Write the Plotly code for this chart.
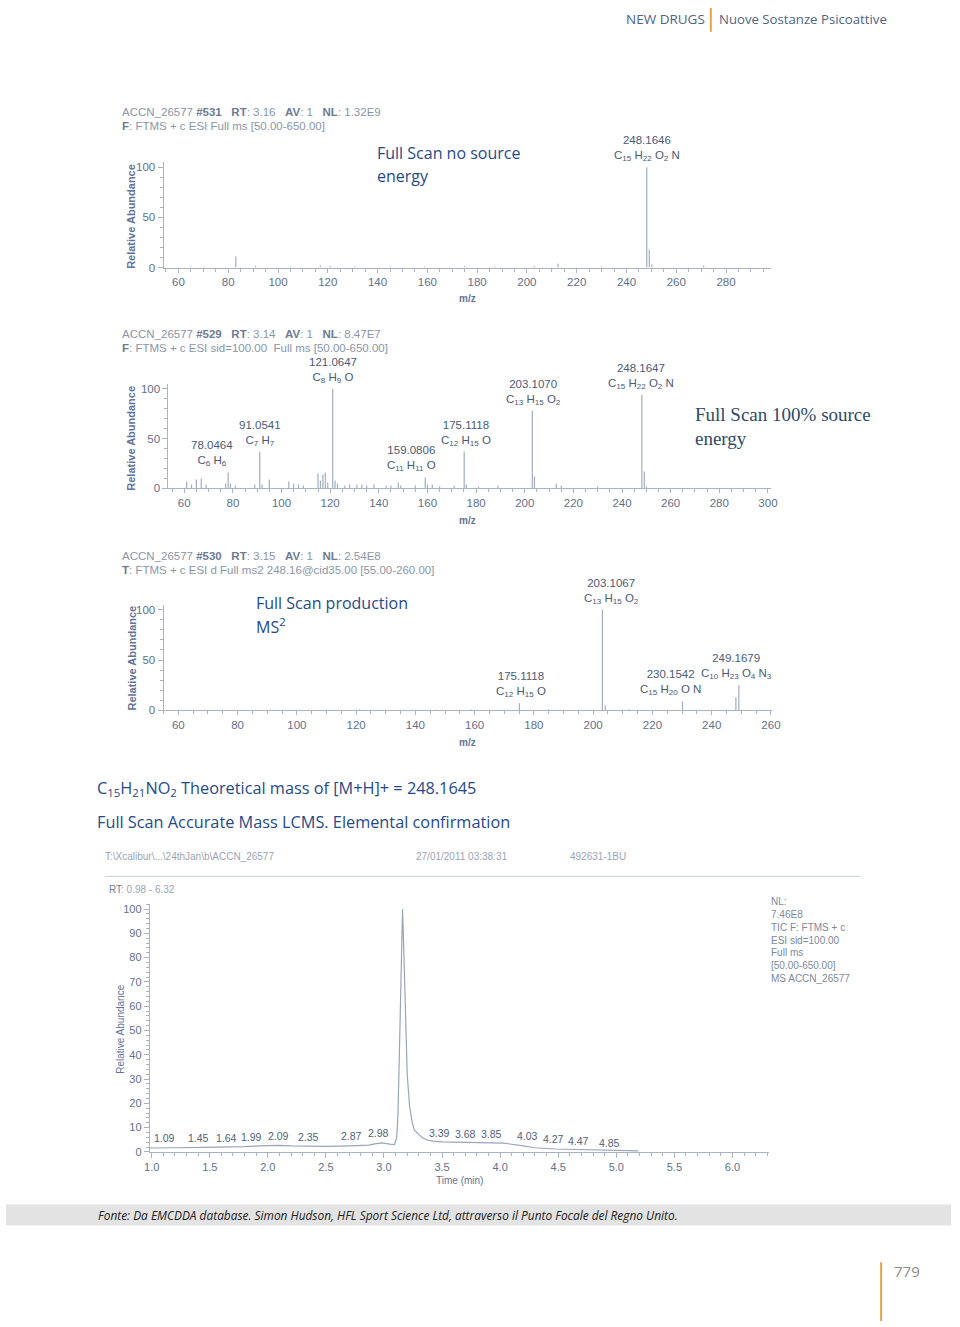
import plotly.graph_objects as go

W, H = 960, 1327


def px(x):
    return x / W


def py(y):
    return 1 - y / H


# ---------------- DATA ----------------
# Panel 1: Full Scan, no source energy
mz_p1 = [65.0, 70.0, 83.06, 91.0, 105.0, 117.0, 121.0, 131.0, 145.0, 159.0, 175.0,
         187.0, 203.0, 212.5, 230.0, 248.16, 249.17, 250.17, 271.0]
ab_p1 = [1.0, 0.8, 11.0, 1.5, 1.0, 2.0, 1.5, 1.0, 1.0, 1.0, 1.5,
         1.0, 1.5, 4.0, 1.0, 100.0, 18.0, 3.0, 2.0]
lab_p1_mz = [248.1646]
lab_p1_ab = [100.0]
lab_p1_mass = ["248.1646"]
lab_p1_formula = ["C<sub>15</sub> H<sub>22</sub> O<sub>2</sub> N"]

# Panel 2: Full Scan, 100% source energy
mz_p2 = [61, 63, 65, 67, 69, 77, 78.05, 79, 81, 89, 91.05, 92, 95, 103, 105, 107, 109,
         115, 116, 117, 118, 119, 121.06, 122, 123, 126, 128, 131, 133, 135, 138, 143,
         145, 148, 149, 155, 159.08, 160, 162, 165, 171, 175.11, 176, 181, 189, 203.11,
         204, 213, 215, 230, 248.16, 249.17, 250]
ab_p2 = [7, 4, 9, 10, 4, 5, 16, 5, 3, 4, 37, 4, 9, 7, 5, 4, 3,
         15, 8, 14, 16, 6, 100, 8, 5, 3, 4, 4, 4, 3, 4, 3,
         3, 6, 3, 3, 11, 4, 4, 2, 3, 37, 4, 2, 3, 78,
         12, 5, 3, 2, 94, 17, 2]
lab_p2_mz = [78.0464, 91.0541, 121.0647, 159.0806, 175.1118, 203.1070, 248.1647]
lab_p2_ab = [16, 37, 100, 11, 37, 78, 94]
lab_p2_mass = ["78.0464", "91.0541", "121.0647", "159.0806", "175.1118", "203.1070", "248.1647"]
lab_p2_formula = ["C<sub>6</sub> H<sub>6</sub>", "C<sub>7</sub> H<sub>7</sub>",
                  "C<sub>8</sub> H<sub>9</sub> O", "C<sub>11</sub> H<sub>11</sub> O",
                  "C<sub>12</sub> H<sub>15</sub> O", "C<sub>13</sub> H<sub>15</sub> O<sub>2</sub>",
                  "C<sub>15</sub> H<sub>22</sub> O<sub>2</sub> N"]

# Panel 3: Product ion MS2
mz_p3 = [70, 91, 105, 121, 147, 159, 175.11, 185, 203.11, 204.1, 212, 230.15, 248.16, 249.17]
ab_p3 = [0.5, 0.8, 0.6, 0.8, 0.6, 0.8, 7, 1, 100, 5, 1, 9, 13, 25]
lab_p3_mz = [175.1118, 203.1067, 230.1542, 249.1679]
lab_p3_ab = [7, 100, 9, 25]
lab_p3_mass = ["175.1118", "203.1067", "230.1542", "249.1679"]
lab_p3_formula = ["C<sub>12</sub> H<sub>15</sub> O", "C<sub>13</sub> H<sub>15</sub> O<sub>2</sub>",
                  "C<sub>15</sub> H<sub>20</sub> O N", "C<sub>10</sub> H<sub>23</sub> O<sub>4</sub> N<sub>3</sub>"]

# Chromatogram (TIC)
rt_time = [0.98, 1.09, 1.2, 1.45, 1.64, 1.8, 1.99, 2.09, 2.2, 2.35, 2.5, 2.7, 2.87, 2.92,
           2.98, 3.05, 3.09, 3.11, 3.12, 3.13, 3.14, 3.15, 3.16, 3.17, 3.18, 3.19, 3.2,
           3.22, 3.24, 3.26, 3.3, 3.33, 3.38, 3.42, 3.5, 3.68, 3.85, 4.03, 4.2, 4.3, 4.47,
           4.7, 4.85, 5.0, 5.19]
rt_abund = [1.6, 1.8, 1.7, 1.9, 2.0, 2.2, 2.6, 2.7, 2.5, 2.4, 2.3, 2.5, 2.8, 3.3,
            3.7, 3.2, 3.0, 6.0, 15.0, 35.0, 62.0, 90.0, 100.0, 84.0, 62.0, 43.0, 32.0,
            19.0, 13.0, 9.0, 7.0, 5.8, 4.8, 4.4, 4.1, 4.0, 3.8, 3.6, 2.5, 1.7, 1.2,
            0.9, 0.7, 0.5, 0.4]
rt_labels = ["1.09", "1.45", "1.64", "1.99", "2.09", "2.35", "2.87", "2.98", "3.16",
             "3.39", "3.68", "3.85", "4.03", "4.27", "4.47", "4.85"]
rt_label_t = [1.09, 1.45, 1.64, 1.99, 2.09, 2.35, 2.87, 2.98, 3.16,
              3.39, 3.68, 3.85, 4.03, 4.27, 4.47, 4.85]
rt_label_y = [5.6, 5.6, 5.6, 6.1, 6.5, 6.1, 6.5, 7.7, 103.0,
              7.7, 7.4, 7.3, 6.5, 5.3, 4.6, 3.8]

# ---------------- STYLE ----------------
AX = "#aab3c3"
TICKC = "#5f6f8c"
LINEC = "#a3adbf"
LABC = "#4a5a77"
HEADC = "#8a95a9"
BLUE = "#1f4a8a"
# horizontal label offsets (pixels) used by the instrument software to avoid overlaps
rt_label_dx = [2, -5, 0, -15, 0, 0, -17, -3, -2, 10, 3, 9, 24, 22, 24, 11]


def sticks(mz, ab):
    xs, ys = [], []
    for m, a in zip(mz, ab):
        xs += [m, m, None]
        ys += [0, a, None]
    return xs, ys


fig = go.Figure()

panels = [
    dict(mz=mz_p1, ab=ab_p1, xd=(160, 777), xr=(54, 298), yb=268, yt=162, dt=20, ytop=105),
    dict(mz=mz_p2, ab=ab_p2, xd=(165, 777), xr=(53.5, 301.2), yb=490, yt=385, dt=20, ytop=105),
    dict(mz=mz_p3, ab=ab_p3, xd=(160, 778), xr=(55.0, 260.3), yb=713, yt=607, dt=20, ytop=105),
]

layout_axes = {}
for i, p in enumerate(panels, start=1):
    xs, ys = sticks(p["mz"], p["ab"])
    sfx = "" if i == 1 else str(i)
    fig.add_trace(go.Scatter(x=xs, y=ys, mode="lines", line=dict(color=LINEC, width=1.2),
                             xaxis="x" + sfx, yaxis="y" + sfx, hoverinfo="skip",
                             showlegend=False))
    layout_axes["xaxis" + sfx] = dict(
        domain=[px(p["xd"][0]), px(p["xd"][1])], range=list(p["xr"]), anchor="y" + sfx,
        showgrid=False, zeroline=False, showline=True, linecolor=AX, linewidth=1,
        ticks="outside", ticklen=4, tickcolor=AX, dtick=p["dt"], tick0=0,
        tickfont=dict(family="Arial, Liberation Sans", size=11.5, color=TICKC),
        minor=dict(ticks="outside", ticklen=3, dtick=5, tickcolor=AX),
    )
    layout_axes["yaxis" + sfx] = dict(
        domain=[py(p["yb"]), py(p["yt"])], range=[0, p["ytop"]], anchor="x" + sfx,
        showgrid=False, zeroline=False, showline=True, linecolor=AX, linewidth=1,
        ticks="outside", ticklen=5, tickcolor=AX, tickvals=[0, 50, 100],
        tickfont=dict(family="Arial, Liberation Sans", size=11.5, color=TICKC),
        minor=dict(ticks="outside", ticklen=3, dtick=10, tickcolor=AX),
    )

# Chromatogram
fig.add_trace(go.Scatter(x=rt_time, y=rt_abund, mode="lines",
                         line=dict(color="#9aa5b8", width=1.2),
                         xaxis="x4", yaxis="y4", hoverinfo="skip", showlegend=False))
layout_axes["xaxis4"] = dict(
    domain=[px(146), px(775)], range=[0.983, 6.314], anchor="y4",
    showgrid=False, zeroline=False, showline=True, linecolor=AX, linewidth=1,
    ticks="outside", ticklen=5, tickcolor=AX, dtick=0.5, tick0=0, tickformat=".1f",
    tickfont=dict(family="Arial, Liberation Sans", size=11, color=TICKC),
    minor=dict(ticks="outside", ticklen=3, dtick=0.1, tickcolor=AX),
)
layout_axes["yaxis4"] = dict(
    domain=[py(1157), py(908)], range=[0, 102], anchor="x4",
    showgrid=False, zeroline=False, showline=True, linecolor=AX, linewidth=1,
    ticks="outside", ticklen=5, tickcolor=AX, dtick=10, tick0=0,
    tickfont=dict(family="Arial, Liberation Sans", size=11, color=TICKC),
    minor=dict(ticks="outside", ticklen=3, dtick=2, tickcolor=AX),
)

annotations = []


def txt(x, y, text, size=11, color=HEADC, family="Arial, Liberation Sans", xanchor="left",
        yanchor="middle", angle=0, **kw):
    annotations.append(dict(x=px(x), y=py(y), xref="paper", yref="paper", text=text,
                            showarrow=False, xanchor=xanchor, yanchor=yanchor,
                            textangle=angle, align="left",
                            font=dict(family=family, size=size, color=color), **kw))


def peak_labels(mzs, abs_, masses, forms, sfx, shifts):
    for m, a, ms, f, sh in zip(mzs, abs_, masses, forms, shifts):
        annotations.append(dict(x=m, y=a, xref="x" + sfx, yref="y" + sfx,
                                text=ms + "<br>" + f, showarrow=False, xanchor="center",
                                yanchor="bottom", yshift=2, xshift=sh, align="center",
                                font=dict(family="Arial, Liberation Sans", size=11.5, color=LABC)))


peak_labels(lab_p1_mz, lab_p1_ab, lab_p1_mass, lab_p1_formula, "", [0])
peak_labels(lab_p2_mz, lab_p2_ab, lab_p2_mass, lab_p2_formula, "2", [-16, 0, 0, -14, 2, 1, -1])
peak_labels(lab_p3_mz, lab_p3_ab, lab_p3_mass, lab_p3_formula, "3", [2, 9, -12, -2])

# Spectrum headers
D = "#6e7b93"


def b(s):
    return '<span style="color:%s"><b>%s</b></span>' % (D, s)


HS = 11.5
txt(116, 112, "ACCN_26577 " + b("#531") + "   " + b("RT") + ": 3.16   " + b("AV") + ": 1   " + b("NL") + ": 1.32E9", size=HS)
txt(116, 126, b("F") + ": FTMS + c ESI Full ms [50.00-650.00]", size=HS)
txt(116, 335, "ACCN_26577 " + b("#529") + "   " + b("RT") + ": 3.14   " + b("AV") + ": 1   " + b("NL") + ": 8.47E7", size=HS)
txt(116, 349, b("F") + ": FTMS + c ESI sid=100.00  Full ms [50.00-650.00]", size=HS)
txt(116, 558, "ACCN_26577 " + b("#530") + "   " + b("RT") + ": 3.15   " + b("AV") + ": 1   " + b("NL") + ": 2.54E8", size=HS)
txt(116, 572, b("T") + ": FTMS + c ESI d Full ms2 248.16@cid35.00 [55.00-260.00]", size=HS)

# axis titles
for yc in (217, 440, 661):
    txt(127, yc, "<b>Relative Abundance</b>", size=11, color="#62729a", xanchor="center",
        angle=-90)
for yc in (299, 522, 745):
    txt(469, yc, "<b>m/z</b>", size=10, color="#62729a", xanchor="center")

txt(116, 1034, "Relative Abundance", size=10, color="#62729a", xanchor="center", angle=-90)
txt(461, 1186, "Time (min)", size=10, color="#62729a", xanchor="center")

# Panel descriptions
txt(375, 153, "Full Scan no source", size=16, color=BLUE, family="Open Sans")
txt(375, 176, "energy", size=16, color=BLUE, family="Open Sans")
txt(698, 416, "Full Scan 100% source", size=19, color="#2e4a68",
    family="Liberation Serif, Times New Roman")
txt(698, 440, "energy", size=19, color="#2e4a68", family="Liberation Serif, Times New Roman")
txt(252, 605, "Full Scan production", size=16, color=BLUE, family="Open Sans")
txt(252, 628, "MS<sup>2</sup>", size=16, color=BLUE, family="Open Sans")

# Middle captions
txt(90, 792, "C<sub>15</sub>H<sub>21</sub>NO<sub>2</sub> Theoretical mass of [M+H]+ = 248.1645",
    size=16.3, color=BLUE, family="Open Sans")
txt(90, 825, "Full Scan Accurate Mass LCMS. Elemental confirmation", size=16.3, color=BLUE,
    family="Open Sans")

# Chromatogram header
CH = "#9aa3b4"
txt(99, 860, r"T:\Xcalibur\...\24thJan\b\ACCN_26577", size=10, color=CH)
txt(414, 860, "27/01/2011 03:38:31", size=10, color=CH)
txt(571, 860, "492631-1BU", size=10, color=CH)
txt(103, 893, '<span style="color:#6e7b93">RT</span>: 0.98 - 6.32', size=10, color=CH)
nl_lines = ["NL:", "7.46E8", "TIC F: FTMS + c", "ESI sid=100.00", "Full ms", "[50.00-650.00]",
            "MS ACCN_26577"]
for k, s in enumerate(nl_lines):
    txt(775, 905 + k * 13, s, size=10, color="#7d889c")

# retention-time labels
for t, yv, s, dx in zip(rt_label_t, rt_label_y, rt_labels, rt_label_dx):
    annotations.append(dict(x=t, y=yv, xref="x4", yref="y4", text=s, showarrow=False,
                            xanchor="center", yanchor="middle", xshift=dx,
                            font=dict(family="Arial, Liberation Sans", size=10.5, color="#4f5f7b")))

# Page header / footer
txt(628, 18, "NEW DRUGS", size=13.5, color="#4f6386", family="Open Sans")
txt(722, 18, "Nuove Sostanze Psicoattive", size=13.2, color="#4f6386", family="Open Sans")
txt(91, 1220, "<i>Fonte: Da EMCDDA database. Simon Hudson, HFL Sport Science Ltd, attraverso il Punto Focale del Regno Unito.</i>",
    size=11.9, color="#222222", family="Open Sans")
txt(900, 1277, "779", size=15, color="#8a8a8a", family="Open Sans")

shapes = [
    dict(type="rect", xref="paper", yref="paper", x0=0, x1=1, y0=py(1231), y1=py(1210),
         fillcolor="#e3e3e3", line=dict(width=0), layer="below"),
    dict(type="line", xref="paper", yref="paper", x0=px(716), x1=px(716), y0=py(7), y1=py(31),
         line=dict(color="#e8a444", width=2)),
    dict(type="line", xref="paper", yref="paper", x0=px(889), x1=px(889), y0=py(1268), y1=py(1327),
         line=dict(color="#e8a444", width=2)),
    dict(type="line", xref="paper", yref="paper", x0=px(100), x1=px(868), y0=py(880), y1=py(880),
         line=dict(color="#c9ced8", width=1)),
]

fig.update_layout(
    width=W, height=H, margin=dict(l=0, r=0, t=0, b=0),
    paper_bgcolor="white", plot_bgcolor="rgba(0,0,0,0)",
    annotations=annotations, shapes=shapes, showlegend=False,
    **layout_axes,
)

fig.write_html("out.html", config={"displayModeBar": False, "staticPlot": True},
               post_script="document.body.style.margin='0';document.body.style.overflow='hidden';")
